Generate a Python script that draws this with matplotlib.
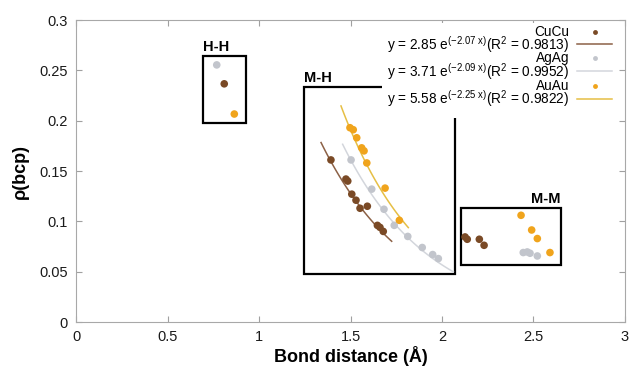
import matplotlib
matplotlib.use("Agg")
import matplotlib.pyplot as plt
from matplotlib.patches import Rectangle
import numpy as np

plt.rcParams['font.family'] = ['Liberation Sans', 'DejaVu Sans']
plt.rcParams['mathtext.default'] = 'regular'

# Bond distances / rho(bcp)
cu_x = [0.810, 1.393, 1.475, 1.485, 1.507, 1.530, 1.552, 1.592, 1.647, 1.661, 1.679,
        2.126, 2.138, 2.204, 2.230]
cu_y = [0.2366, 0.161, 0.142, 0.140, 0.127, 0.121, 0.113, 0.115, 0.096, 0.094, 0.090,
        0.0845, 0.0822, 0.0822, 0.0762]
ag_x = [0.769, 1.503, 1.616, 1.683, 1.739, 1.813, 1.892, 1.949, 1.980,
        2.444, 2.466, 2.481, 2.521]
ag_y = [0.2554, 0.161, 0.132, 0.112, 0.096, 0.085, 0.074, 0.067, 0.063,
        0.069, 0.0696, 0.0683, 0.0656]
au_x = [0.865, 1.497, 1.515, 1.534, 1.561, 1.574, 1.589, 1.689, 1.767,
        2.432, 2.490, 2.521, 2.590]
au_y = [0.2066, 0.193, 0.191, 0.183, 0.173, 0.170, 0.158, 0.133, 0.101,
        0.106, 0.0914, 0.0829, 0.069]

# exponential fits y = a*exp(b*x), shown over the M-H range
names = ["CuCu", "AgAg", "AuAu"]
fit_a = [2.85, 3.71, 5.58]
fit_b = [-2.07, -2.09, -2.25]
fit_r2 = ["0.9813", "0.9952", "0.9822"]
fit_xmin = [1.339, 1.457, 1.448]
fit_xmax = [1.725, 2.062, 1.816]

# region boxes: label, x0, x1, y0, y1
box_labels = ["H-H", "M-H", "M-M"]
box_x0 = [0.692, 1.246, 2.102]
box_x1 = [0.929, 2.071, 2.649]
box_y0 = [0.198, 0.0475, 0.0564]
box_y1 = [0.264, 0.2337, 0.1136]

dot_colors = ["#7a4a26", "#c2c5cc", "#f0a41c"]
line_colors = ["#8c6146", "#d3d6dc", "#e6bf45"]

fig = plt.figure(figsize=(6.32, 3.67), dpi=100)
ax = fig.add_axes([0.1203, 0.1226, 0.8686, 0.8229])

# boxes (behind the key)
for lab, x0, x1, y0, y1 in zip(box_labels, box_x0, box_x1, box_y0, box_y1):
    ax.add_patch(Rectangle((x0, y0), x1 - x0, y1 - y0, fill=False,
                           edgecolor="black", linewidth=1.6, zorder=1))
    if lab == "M-M":
        ax.text(x1, y1 + 0.002, lab, ha="right", va="bottom",
                fontsize=10.5, fontweight="bold", zorder=1)
    else:
        ax.text(x0, y1 + 0.002, lab, ha="left", va="bottom",
                fontsize=10.5, fontweight="bold", zorder=1)

# data and fits
for xs, ys, c, lc, a, b, x0, x1 in zip([cu_x, ag_x, au_x], [cu_y, ag_y, au_y],
                                       dot_colors, line_colors, fit_a, fit_b,
                                       fit_xmin, fit_xmax):
    xf = np.linspace(x0, x1, 100)
    ax.plot(xf, a * np.exp(b * xf), color=lc, linewidth=1.1, zorder=4)
    ax.scatter(xs, ys, s=30, color=c, edgecolors="none", zorder=5)

# opaque key, drawn by hand (text right aligned, sample on the right)
ax.add_patch(Rectangle((0.558, 0.677), 0.427, 0.313, transform=ax.transAxes,
                       facecolor="white", edgecolor="none", zorder=2))
row_y = [0.961, 0.920, 0.875, 0.830, 0.782, 0.740]
for i in range(3):
    ym, yl = row_y[2 * i], row_y[2 * i + 1]
    ax.text(0.898, ym, names[i], transform=ax.transAxes, ha="right",
            va="center", fontsize=9.8, zorder=6)
    ax.plot([0.945], [ym], "o", transform=ax.transAxes, color=dot_colors[i],
            markersize=3.5, markeredgewidth=0, zorder=6)
    eq = r"y = %.2f e$^{(%.2f\ x)}$(R$^2$ = %s)" % (fit_a[i], fit_b[i], fit_r2[i])
    ax.text(0.898, yl, eq, transform=ax.transAxes, ha="right", va="center",
            fontsize=9.8, zorder=6)
    ax.plot([0.913, 0.976], [yl, yl], transform=ax.transAxes,
            color=line_colors[i], linewidth=1.1, zorder=6)

ax.set_xlim(0, 3)
ax.set_ylim(0, 0.3)
ax.set_xticks([0, 0.5, 1, 1.5, 2, 2.5, 3])
ax.set_yticks([0, 0.05, 0.1, 0.15, 0.2, 0.25, 0.3])
ax.set_xticklabels(["0", "0.5", "1", "1.5", "2", "2.5", "3"])
ax.set_yticklabels(["0", "0.05", "0.1", "0.15", "0.2", "0.25", "0.3"])
ax.tick_params(direction="in", top=True, right=True, length=4.3, width=0.8,
               color="#a0a0a0", labelsize=10.5, labelcolor="#1a1a1a", pad=6)
for sp in ax.spines.values():
    sp.set_color("#a8a8a8")
    sp.set_linewidth(0.8)

ax.set_xlabel("Bond distance (Å)", fontsize=13, fontweight="bold", labelpad=1)
ax.set_ylabel("ρ(bcp)", fontsize=13, fontweight="bold", labelpad=7)

fig.savefig("out.png", dpi=100)
